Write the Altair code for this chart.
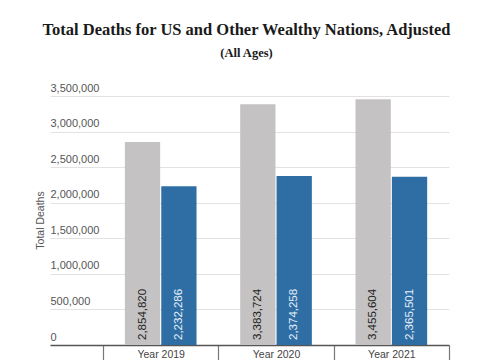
import altair as alt
import pandas as pd

years = ["Year 2019", "Year 2020", "Year 2021"]
series = ["US", "Other Wealthy Nations"]
us_values = [2854820, 3383724, 3455604]
peer_values = [2232286, 2374258, 2365501]
y_ticks = [0, 500000, 1000000, 1500000, 2000000, 2500000, 3000000, 3500000]

rows = []
for i, yr in enumerate(years):
    rows.append({"year": yr, "series": series[0], "value": us_values[i], "zero": 0, "label": f"{us_values[i]:,}"})
    rows.append({"year": yr, "series": series[1], "value": peer_values[i], "zero": 0, "label": f"{peer_values[i]:,}"})
df = pd.DataFrame(rows)

colors = ["#c4c2c2", "#2f6ea5"]
text_colors = ["#222222", "#e6eef8"]

x_scale = alt.Scale(paddingInner=0, paddingOuter=0.23, align=1)
xoff_scale = alt.Scale(paddingInner=0.03, paddingOuter=0.6)
y_scale = alt.Scale(domain=[0, 3500000], nice=False)

x_axis = alt.Axis(
    tickBand="extent",
    tickSize=25,
    tickColor="#777",
    tickWidth=1.2,
    domainColor="#555",
    domainWidth=1.5,
    labelPadding=-21,
    labelBaseline="top",
    labelAngle=0,
    labelFont="Liberation Sans",
    labelFontSize=10.5,
    labelColor="#444",
    grid=False,
)
y_axis = alt.Axis(
    values=y_ticks,
    labelExpr="format(datum.value, ',')",
    domain=False,
    ticks=False,
    tickSize=0,
    labelAlign="left",
    labelBaseline="bottom",
    labelPadding=0,
    labelOffset=-3,
    labelFont="Liberation Sans",
    labelFontSize=11,
    labelColor="#555",
    gridColor="#e2e2e2",
    gridWidth=1,
    titleFont="Liberation Sans",
    titleFontSize=10.5,
    titleFontWeight="normal",
    titleColor="#555",
    titleAngle=270,
    titleX=-10,
    titleY=124,
    titleAlign="center",
    titleBaseline="middle",
)

x_enc = alt.X("year:N", sort=years, title=None, scale=x_scale, axis=x_axis)
xoff = alt.XOffset("series:N", sort=series, scale=xoff_scale)

bars = alt.Chart(df).mark_bar().encode(
    x=x_enc,
    xOffset=xoff,
    y=alt.Y("value:Q", scale=y_scale, title="Total Deaths", axis=y_axis),
    color=alt.Color("series:N", sort=series,
                    scale=alt.Scale(domain=series, range=colors), legend=None),
)

labels = alt.Chart(df).mark_text(
    angle=270, align="left", baseline="middle", dx=5,
    font="Liberation Sans", fontSize=11.5,
).encode(
    x=x_enc,
    xOffset=xoff,
    y=alt.Y("zero:Q", scale=y_scale, title="Total Deaths", axis=y_axis),
    text="label:N",
    color=alt.Color("series:N", sort=series,
                    scale=alt.Scale(domain=series, range=text_colors), legend=None),
)

chart = alt.layer(bars, labels).resolve_scale(color="independent").properties(
    width=399,
    height=249,
    background="white",
    autosize=alt.AutoSizeParams(type="none"),
    padding={"left": 42, "top": 88, "right": 20, "bottom": 40},
    title=alt.TitleParams(
        text="Total Deaths for US and Other Wealthy Nations, Adjusted",
        subtitle="(All Ages)",
        anchor="middle",
        frame="group",
        font="Liberation Serif",
        fontSize=16.5,
        fontWeight="bold",
        color="#1a1a1a",
        subtitleFont="Liberation Serif",
        subtitleFontSize=12.5,
        subtitleFontWeight="bold",
        subtitleColor="#1a1a1a",
        subtitlePadding=8,
        offset=23,
        limit=480,
        dx=-3,
    ),
).configure_view(stroke=None)

chart.save("out.html", embed_options={"renderer": "svg", "actions": False})
